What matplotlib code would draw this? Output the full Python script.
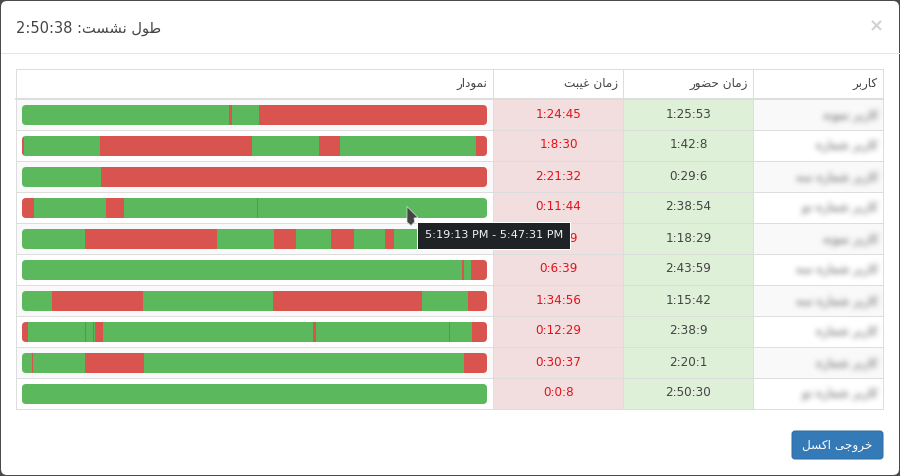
import numpy as np
import matplotlib
matplotlib.use("Agg")
import matplotlib.pyplot as plt
from matplotlib.patches import FancyBboxPatch, Rectangle, Polygon

plt.rcParams['font.family'] = ['DejaVu Sans']

# ---------- data ----------
session_length = "2:50:38"
total_seconds = 10238
headers = ["نمودار", "زمان غیبت", "زمان حضور", "کاربر"]
# The names are blurred in the reference: generic placeholders stand in for them.
user_labels = ["کاربر نمونه", "کاربر شماره", "کاربر شماره سه", "کاربر شماره دو",
               "کاربر نمونه", "کاربر شماره سه", "کاربر شماره سه", "کاربر شماره",
               "کاربر شماره", "کاربر شماره دو"]
present_times = ["1:25:53", "1:42:8", "0:29:6", "2:38:54", "1:18:29",
                 "2:43:59", "1:15:42", "2:38:9", "2:20:1", "2:50:30"]
absent_times = ["1:24:45", "1:8:30", "2:21:32", "0:11:44", "1:32:9",
                "0:6:39", "1:34:56", "0:12:29", "0:30:37", "0:0:8"]
first_present = [True, False, True, False, True, True, True, False, True, True]
segments = [
    [4558, 59, 601, 5020],
    [55, 1662, 3347, 1475, 462, 2995, 242],
    [1746, 8492],
    [264, 1585, 396, 2929, 15, 5049],
    [1387, 2907, 1255, 484, 771, 506, 683, 198, 617, 1430],
    [9689, 44, 154, 351],
    [661, 2004, 2863, 3281, 1013, 416],
    [132, 1255, 22, 154, 22, 22, 176, 4624, 66, 2929, 22, 484, 330],
    [220, 22, 1145, 1299, 7046, 506],
    [10238],
]
tooltip_text = "5:19:13 PM - 5:47:31 PM"
button_label = "خروجی اکسل"
title_label = "طول نشست"

# ---------- colours ----------
GREEN, RED = "#5cb85c", "#d9534f"
BORDER = "#dddddd"
TEXT = "#444444"

# ---------- Persian shaping (matplotlib draws no joined script by itself) ----------
FORMS = {  # isolated, final, initial, medial
    'ا': (0xFE8D, 0xFE8E), 'د': (0xFEA9, 0xFEAA), 'ذ': (0xFEAB, 0xFEAC),
    'ر': (0xFEAD, 0xFEAE), 'ز': (0xFEAF, 0xFEB0), 'ژ': (0xFB8A, 0xFB8B),
    'و': (0xFEED, 0xFEEE),
    'ب': (0xFE8F, 0xFE90, 0xFE91, 0xFE92), 'پ': (0xFB56, 0xFB57, 0xFB58, 0xFB59),
    'ت': (0xFE95, 0xFE96, 0xFE97, 0xFE98), 'ج': (0xFE9D, 0xFE9E, 0xFE9F, 0xFEA0),
    'چ': (0xFB7A, 0xFB7B, 0xFB7C, 0xFB7D), 'ح': (0xFEA1, 0xFEA2, 0xFEA3, 0xFEA4),
    'خ': (0xFEA5, 0xFEA6, 0xFEA7, 0xFEA8), 'س': (0xFEB1, 0xFEB2, 0xFEB3, 0xFEB4),
    'ش': (0xFEB5, 0xFEB6, 0xFEB7, 0xFEB8), 'ص': (0xFEB9, 0xFEBA, 0xFEBB, 0xFEBC),
    'ض': (0xFEBD, 0xFEBE, 0xFEBF, 0xFEC0), 'ط': (0xFEC1, 0xFEC2, 0xFEC3, 0xFEC4),
    'ع': (0xFEC9, 0xFECA, 0xFECB, 0xFECC), 'غ': (0xFECD, 0xFECE, 0xFECF, 0xFED0),
    'ف': (0xFED1, 0xFED2, 0xFED3, 0xFED4), 'ق': (0xFED5, 0xFED6, 0xFED7, 0xFED8),
    'ک': (0xFB8E, 0xFB8F, 0xFB90, 0xFB91), 'گ': (0xFB92, 0xFB93, 0xFB94, 0xFB95),
    'ل': (0xFEDD, 0xFEDE, 0xFEDF, 0xFEE0), 'م': (0xFEE1, 0xFEE2, 0xFEE3, 0xFEE4),
    'ن': (0xFEE5, 0xFEE6, 0xFEE7, 0xFEE8), 'ه': (0xFEE9, 0xFEEA, 0xFEEB, 0xFEEC),
    'ی': (0xFBFC, 0xFBFD, 0xFBFE, 0xFBFF),
}


def fa(s):
    out = []
    for i, c in enumerate(s):
        f = FORMS.get(c)
        if f is None:
            out.append(c)
            continue
        prev = FORMS.get(s[i - 1]) if i > 0 else None
        nxt = FORMS.get(s[i + 1]) if i + 1 < len(s) else None
        join_prev = prev is not None and len(prev) == 4
        join_next = nxt is not None and len(f) == 4
        if join_prev and join_next:
            idx = 3
        elif join_prev:
            idx = 1
        elif join_next:
            idx = 2
        else:
            idx = 0
        out.append(chr(f[idx]))
    return "".join(reversed(out))


def blur_filter(rgb, passes=4, radius=2):
    colour = np.array(matplotlib.colors.to_rgb(rgb))

    def process(image, dpi):
        pad = radius * passes + 1
        a = np.pad(image[..., 3], pad)
        k = np.ones(2 * radius + 1) / (2 * radius + 1)
        for _ in range(passes):
            a = np.apply_along_axis(lambda m: np.convolve(m, k, mode="same"), 0, a)
            a = np.apply_along_axis(lambda m: np.convolve(m, k, mode="same"), 1, a)
        out = np.zeros(a.shape + (4,))
        out[..., :3] = colour
        out[..., 3] = np.clip(a * 1.4, 0, 1)
        return out, -pad, -pad
    return process


# ---------- figure: one pixel-scaled layer below, one value-scaled layer for bars, one on top ----------
W, H = 900, 476
fig = plt.figure(figsize=(W / 100, H / 100), dpi=100, facecolor="#4a4a4a")


def pixel_axes(z):
    a = fig.add_axes([0, 0, 1, 1], zorder=z)
    a.set_xlim(0, W)
    a.set_ylim(H, 0)
    a.axis("off")
    return a


ax = pixel_axes(0)
top = pixel_axes(2)

ax.add_patch(FancyBboxPatch((1, 1), 898, 474, boxstyle="round,pad=0,rounding_size=6",
                            fc="white", ec="none"))
ax.plot([1, 899], [52.5, 52.5], color="#e5e5e5", lw=0.72)

ax.text(16, 28, session_length + " :" + fa(title_label), fontsize=10.5, color=TEXT,
        ha="left", va="center")
ax.text(876.5, 26.5, "×", fontsize=13, color="#d2d2d2", fontweight="bold", ha="center", va="center")

# table geometry
col_x = [15.5, 492.5, 622.5, 752.5, 882.5]
head_top, head_bottom = 68.5, 98.5
row_top = [99.5 + 31 * i for i in range(len(segments) + 1)]
row_line = [y - 1 for y in row_top]
n = len(segments)

for i in range(n):
    if i % 2 == 0:
        ax.add_patch(Rectangle((col_x[0], row_line[i]), col_x[4] - col_x[0], 31, fc="#f9f9f9", ec="none"))
    ax.add_patch(Rectangle((col_x[1], row_line[i]), 130, 31, fc="#f2dede", ec="none"))
    ax.add_patch(Rectangle((col_x[2], row_line[i]), 130, 31, fc="#dff0d8", ec="none"))

for x in col_x:
    ax.plot([x, x], [head_top, row_line[-1]], color=BORDER, lw=0.72, solid_capstyle="butt")
ax.plot([col_x[0], col_x[4]], [head_top, head_top], color=BORDER, lw=0.72)
ax.plot([col_x[0], col_x[4]], [head_bottom, head_bottom], color=BORDER, lw=1.44)
for y in row_line[1:]:
    ax.plot([col_x[0], col_x[4]], [y, y], color=BORDER, lw=0.72)

for label, x in zip(headers, [487.5, 617.5, 747.5, 877.5]):
    ax.text(x, 84, fa(label), fontsize=8.64, color=TEXT, ha="right", va="center")

for i in range(n):
    yc = row_top[i] + 14.5
    ax.text(558.5, yc, absent_times[i], fontsize=8.64, color="#e8101a", ha="center", va="center")
    ax.text(688.5, yc, present_times[i], fontsize=8.64, color=TEXT, ha="center", va="center")
    t = ax.text(878, yc + 1, fa(user_labels[i]), fontsize=8.64, color="#777777", ha="right", va="center")
    t.set_agg_filter(blur_filter("#808080"))

# bars: value axis in seconds, row axis in row index
bar_left, bar_right = 22, 487
bars = fig.add_axes([bar_left / W, 1 - row_top[-1] / H, (bar_right - bar_left) / W,
                     (row_top[-1] - row_top[0]) / H], zorder=1)
bars.set_xlim(0, total_seconds)
bars.set_ylim(n - 0.5, -0.5)
bars.axis("off")
bar_h = 20 / 31

for i, segs in enumerate(segments):
    clip = FancyBboxPatch((bar_left, row_top[i] + 5.5), bar_right - bar_left, 20,
                          boxstyle="round,pad=0,rounding_size=4", transform=ax.transData)
    colors = [(GREEN if (j % 2 == 0) == first_present[i] else RED) for j in range(len(segs))]
    starts = np.concatenate([[0], np.cumsum(segs)[:-1]])
    cont = bars.barh(i, segs, left=starts, height=bar_h, color=colors, linewidth=0)
    for b in cont:
        b.set_clip_path(clip)
    line, = bars.plot([0, total_seconds], [i + 9.5 / 31] * 2, color="black", alpha=0.15,
                      lw=0.72, solid_capstyle="butt")
    line.set_clip_path(clip)

# tooltip, cursor, button
top.add_patch(Rectangle((417, 222), 153, 27, fc="#1f2326", ec="white", lw=0.72))
top.text(425, 235, tooltip_text, fontsize=8.1, color="#f0f4f8", ha="left", va="center")
top.add_patch(Polygon([(407, 206.5), (407, 222), (411, 225.5), (414.5, 222), (414, 218),
                       (418, 217.5)], closed=True, fc="#444444", ec="#dddddd", lw=0.5))
top.add_patch(FancyBboxPatch((792, 431), 91, 28, boxstyle="round,pad=0,rounding_size=3",
                             fc="#337ab7", ec="#2e6da4", lw=0.72))
top.text(837.5, 445, fa(button_label), fontsize=8.64, color="white", ha="center", va="center")

fig.savefig("out.png", dpi=100, facecolor=fig.get_facecolor())
